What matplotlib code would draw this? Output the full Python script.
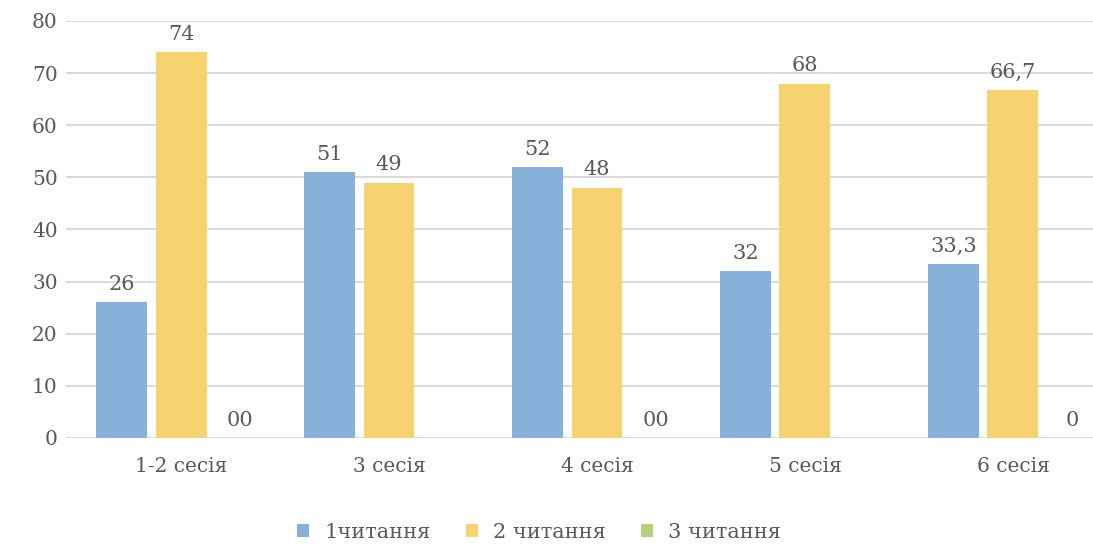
import numpy as np
import matplotlib
matplotlib.use("Agg")
import matplotlib.pyplot as plt
from matplotlib.patches import Patch

# дані по сесіях
categories = ["1-2 сесія", "3 сесія", "4 сесія", "5 сесія", "6 сесія"]
series_names = ["1читання", "2 читання", "3 читання"]
reading1 = [26, 51, 52, 32, 33.3]
reading2 = [74, 49, 48, 68, 66.7]
reading3 = [0, None, 0, None, 0]
reading3_labels = ["00", None, "00", None, "0"]

colors = ["#87B1DB", "#F6D36F", "#B6D07A"]
text_color = "#595959"
grid_color = "#D9D9D9"

plt.rcParams["font.family"] = ["DejaVu Serif", "DejaVu Sans"]

fig = plt.figure(figsize=(10.93, 5.44), dpi=100)
ax = fig.add_axes([0.0604, 0.1949, 0.9396, 0.7665])

x = np.arange(len(categories))
width = 0.245
step = 0.284


def fmt(v):
    return f"{v:g}".replace(".", ",")


for i, (vals, col) in enumerate(zip([reading1, reading2, reading3], colors)):
    pos = x + (i - 1) * step
    for j, v in enumerate(vals):
        if v is None:
            continue
        ax.bar(pos[j], v, width=width, color=col, zorder=3)
        if i == 2:
            label = reading3_labels[j]
        else:
            label = fmt(v)
        ax.annotate(label, (pos[j], v), xytext=(0, 6), textcoords="offset points",
                    ha="center", va="bottom", fontsize=15, color=text_color)

ax.set_ylim(0, 80)
ax.set_xlim(-0.553, 4.385)
ax.set_yticks(np.arange(0, 81, 10))
ax.yaxis.grid(True, color=grid_color, linewidth=1.4, zorder=0)
ax.set_axisbelow(True)
for s in ax.spines.values():
    s.set_visible(False)
ax.tick_params(axis="both", length=0, labelsize=14.5, labelcolor=text_color)
ax.tick_params(axis="y", pad=6)
ax.tick_params(axis="x", pad=14)
ax.set_xticks(x)
ax.set_xticklabels(categories)

handles = [Patch(facecolor=c, edgecolor="none") for c in colors]
fig.legend(handles, series_names, loc="center", bbox_to_anchor=(0.493, 0.022),
           ncol=3, frameon=False, fontsize=15, handlelength=0.6, handleheight=0.6,
           columnspacing=1.7, handletextpad=0.7, labelcolor=text_color)

fig.savefig("out.png", dpi=100)
